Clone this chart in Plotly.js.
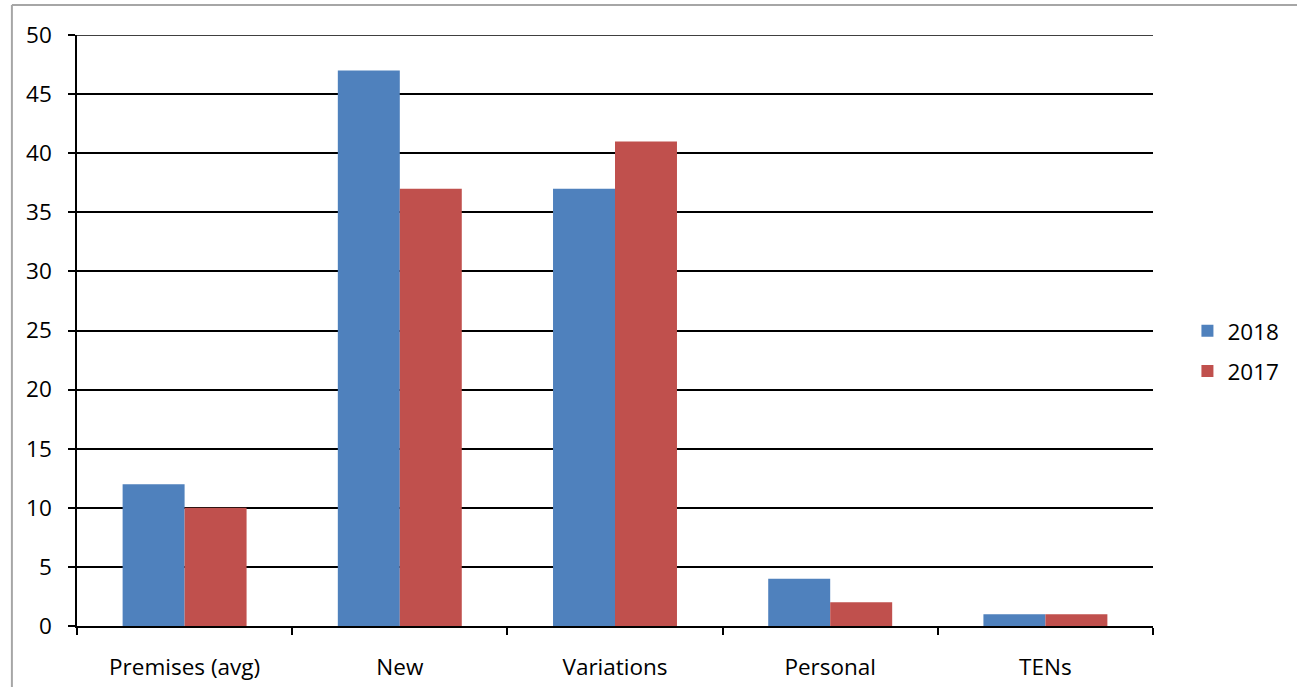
<!DOCTYPE html>
<html><head><meta charset="utf-8">
<script src="https://cdn.plot.ly/plotly-3.0.1.min.js"></script>
<style>html,body{margin:0;padding:0;background:#fff;}#chart{width:1297px;height:687px;}</style>
</head><body><div id="chart"></div>
<script>
const categories = ["Premises (avg)", "New", "Variations", "Personal", "TENs"];
const values2018 = [12, 47, 37, 4, 1];
const values2017 = [10, 37, 41, 2, 1];
const yTicks = [0, 5, 10, 15, 20, 25, 30, 35, 40, 45, 50];

const font = {family: "Open Sans, Liberation Sans, sans-serif", size: 22.5, color: "#000"};
const data = [
  {type: "bar", name: "2018", legendgroup: "a", x: categories, y: values2018, marker: {color: "#4F81BD"}},
  {type: "bar", name: "2017", legendgroup: "b", x: categories, y: values2017, marker: {color: "#C0504D"}}
];
const layout = {
  width: 1297, height: 687,
  margin: {l: 77, r: 144, t: 35, b: 61, autoexpand: false},
  paper_bgcolor: "#fff", plot_bgcolor: "#fff",
  font: font,
  barmode: "group", bargap: 0.424, bargroupgap: 0,
  showlegend: true,
  legend: {x: 1.032, y: 0.465, xanchor: "left", yanchor: "middle", font: font, itemsizing: "constant", tracegroupgap: 8, itemwidth: 30},
  xaxis: {type: "category", showline: true, linecolor: "#000", linewidth: 1.5, ticks: "outside", tickson: "boundaries", ticklen: 7, tickcolor: "#000", tickwidth: 1.5, showgrid: false, tickfont: font, zeroline: false, ticklabelstandoff: 20, automargin: false},
  yaxis: {range: [0, 50], tickvals: yTicks, showline: true, linecolor: "#000", linewidth: 1.5, ticks: "outside", ticklen: 7, tickcolor: "#000", tickwidth: 1.5, showgrid: true, gridcolor: "#000", gridwidth: 1.5, zeroline: false, tickfont: font, ticklabelstandoff: 12, automargin: false},
  shapes: [
    {type: "line", xref: "paper", yref: "y", x0: 0, x1: 1, y0: 50, y1: 50, line: {color: "#000", width: 1.5}},
    {type: "line", xref: "paper", yref: "paper", x0: -0.0605, x1: 1.14, y0: 1.0508, y1: 1.0508, line: {color: "#A6A6A6", width: 2}},
    {type: "line", xref: "paper", yref: "paper", x0: -0.0605, x1: -0.0605, y0: 1.0508, y1: -0.12, line: {color: "#A6A6A6", width: 2}}
  ]
};
Plotly.newPlot("chart", data, layout, {displayModeBar: false});
</script></body></html>
